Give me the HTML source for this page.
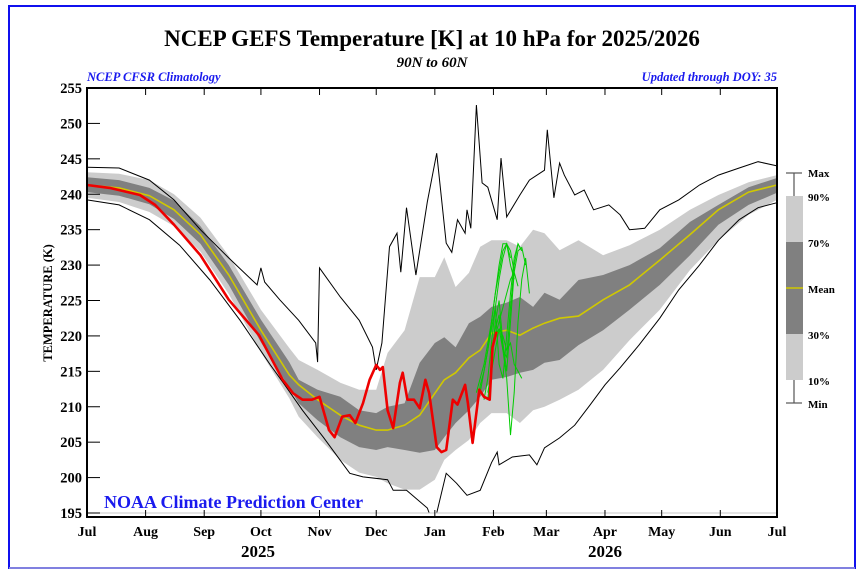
<!DOCTYPE html>
<html><head><meta charset="utf-8"><style>
html,body{margin:0;padding:0;background:#fff;}
svg{display:block;font-family:"Liberation Serif",serif;}
</style></head><body>
<svg id="chart" width="864" height="576" viewBox="0 0 864 576">
<rect x="9" y="6" width="846" height="562" fill="#fff" stroke="#1010ee" stroke-width="2"/>
<line x1="9" y1="568" x2="855" y2="568" stroke="#8080e0" stroke-width="2"/>
<text x="432" y="46" text-anchor="middle" font-size="23" font-weight="bold">NCEP GEFS Temperature [K] at 10 hPa for 2025/2026</text>
<text x="432" y="67" text-anchor="middle" font-size="15" font-weight="bold" font-style="italic">90N to 60N</text>
<text x="87" y="81" font-size="12.5" font-weight="bold" font-style="italic" fill="#1a1aee">NCEP CFSR Climatology</text>
<text x="777" y="81" text-anchor="end" font-size="12.5" font-weight="bold" font-style="italic" fill="#1a1aee">Updated through DOY:  35</text>
<text transform="translate(52,303) rotate(-90)" text-anchor="middle" font-size="12.5" font-weight="bold">TEMPERATURE (K)</text>
<g id="bands"></g>
<g id="lines"></g>
<g id="axes"></g>
<text x="104" y="508" font-size="18" font-weight="bold" fill="#1a1aee">NOAA Climate Prediction Center</text>
<text x="258" y="557" text-anchor="middle" font-size="17" font-weight="bold">2025</text>
<text x="605" y="557" text-anchor="middle" font-size="17" font-weight="bold">2026</text>
<g id="legend">
<line x1="794" y1="173" x2="794" y2="403" stroke="#555" stroke-width="1.2"/>
<line x1="786" y1="173" x2="802" y2="173" stroke="#555" stroke-width="1.2"/>
<line x1="786" y1="403" x2="802" y2="403" stroke="#555" stroke-width="1.2"/>
<rect x="786" y="196" width="17" height="46" fill="#cccccc"/>
<rect x="786" y="242" width="17" height="92" fill="#808080"/>
<rect x="786" y="334" width="17" height="46" fill="#cccccc"/>
<line x1="786" y1="288" x2="803" y2="288" stroke="#d0c800" stroke-width="1.6"/>
<g font-size="11" font-weight="bold">
<text x="808" y="177">Max</text>
<text x="808" y="201">90%</text>
<text x="808" y="247">70%</text>
<text x="808" y="293">Mean</text>
<text x="808" y="339">30%</text>
<text x="808" y="385">10%</text>
<text x="808" y="408">Min</text>
</g>
</g>
</svg>
<script>
const bandDays=[0,17,33,46,60,75,92,107,112,122,134,144,153,159,168,176,184,189,195,202,208,214,222,229,236,242,250,260,273,287,303,319,334,350,365];
const p90=[243.1,242.9,242.0,240.0,236.7,231.3,223.7,218.3,216.6,215.2,213.4,212.4,212.4,217.6,220.8,228.3,228.3,231.1,226.9,228.9,232.6,233.5,233.5,232.6,235.0,234.5,232.1,233.5,231.4,232.8,235.0,237.8,239.9,241.7,242.7];
const p70=[242.4,242.0,240.9,239.1,235.5,230.0,222.3,216.3,213.8,212.4,211.4,209.5,209.1,210.0,210.5,216.2,219.0,219.8,218.4,221.8,222.7,224.1,224.7,225.5,224.1,226.1,225.1,227.9,228.6,230.0,232.4,236.1,238.5,241.0,242.3];
const meanT=[241.3,240.9,239.8,237.8,234.3,228.6,220.8,214.5,213.1,211.0,208.8,207.4,206.7,206.7,207.4,208.8,211.9,213.8,214.8,216.9,218.0,220.4,220.8,220.1,221.1,221.8,222.5,222.8,225.1,227.2,230.7,234.3,237.8,240.3,241.3];
const p30=[240.3,239.8,238.6,236.5,233.0,227.2,219.1,212.7,210.5,208.1,205.7,204.3,203.9,204.3,203.9,203.5,203.9,205.7,207.7,209.5,211.4,213.8,214.2,214.8,215.2,216.2,216.6,218.7,220.8,223.7,227.2,231.4,235.7,238.5,240.2];
const p10=[239.5,238.9,237.5,235.5,231.9,225.9,217.7,211.2,208.6,205.7,202.5,200.7,200.1,199.2,198.3,198.3,199.7,202.5,203.9,205.3,207.7,209.1,209.1,207.7,209.5,210.0,211.0,212.4,215.2,219.4,223.7,229.3,233.5,237.1,239.2];
const maxDays=[0,17,33,46,60,75,90,92,94,102,112,121,122,123,134,144,151,153,156,160,164,166,169,174,180,185,190,193,196,200,201,203,206,209,212,217,219,222,229,234,242,243.5,247,250,252.5,258,263,268,276,282,287,295,303,313,324,334,345,355,365];
const maxT=[243.8,243.7,242.0,239.2,235.0,231.0,227.2,229.6,227.6,225.1,222.2,219.0,216.3,229.6,225.5,222.2,218.4,215.2,219.0,232.6,234.5,229.0,238.1,228.6,238.9,245.8,233.1,231.8,236.4,234.5,237.8,235.2,252.6,241.6,241.0,236.4,245.1,236.8,239.9,242.0,243.4,249.1,239.5,244.4,242.7,239.9,240.6,237.8,238.5,237.1,235.0,235.2,237.8,239.2,241.3,242.7,243.7,244.6,244.0];
const minDays=[0,17,33,49,65,81,97,103.5,114,125,139,146,159,162,169,180,181,185,190,195.5,201,208,214,217,218,225,234,238,242,250,258,266,274,282,292,303,313,324,334,345,355,365];
const minT=[239.2,238.5,236.4,232.8,227.9,222.2,215.9,213.5,209.5,205.7,200.6,200.1,199.7,198.2,198.2,195.7,195.0,195.0,200.6,199.2,197.5,198.2,202.1,203.6,201.8,202.9,203.2,201.8,204.2,205.6,207.4,210.2,213.1,215.5,218.7,222.5,226.5,230.0,233.5,236.4,238.1,238.8];
const obsDays=[0,12,28,36,46,60,75,91,103.5,109,114,119,123,128,131,135,139,142,146,149.5,153,155,156.5,159,162,165.5,167,169.5,173,176,179,181,185,187.5,190,193.5,196,200,201.5,204,207.5,210,213,214.5,216.6];
const obsT=[241.3,240.9,239.9,238.5,235.7,231.4,225.1,220.1,213.8,211.9,211.0,211.0,211.4,206.7,205.7,208.6,208.8,207.7,210.5,213.8,215.9,215.2,215.6,209.5,207.0,213.4,214.8,211.0,211.0,209.8,213.8,211.9,204.3,203.6,203.9,211.0,210.3,213.1,210.5,204.9,212.4,211.4,211.0,218.4,220.6];
const fcStart=[204,206,208,210,212,212,214,216,216];
const fcT=[
[205,209,213,215,218,221,224,228,231,233,232,229],
[212,214,216,219,222,226,230,233,233,231],
[212,215,218,222,226,229,232,233,230,228],
[211,214,219,224,216,214,220,226,231,233,232],
[211,216,222,225,219,215,222,229,232,232.5,230],
[212,215,218,221,218,217,224,230,233,232],
[218,221,223,218,214,206,212,222,228,231,226],
[220,221,220,218,219,216,215,214],
[220,222,224,226,228,229,227]];
const yTicks=[195,200,205,210,215,220,225,230,235,240,245,250,255];
const monthLabels=["Jul","Aug","Sep","Oct","Nov","Dec","Jan","Feb","Mar","Apr","May","Jun","Jul"];
const monthDays=[0,31,62,92,123,153,184,215,243,274,304,335,365];

const X0=87,X1=777,Y0=88,YB=517;
const xs=d=>X0+d*(X1-X0)/365;
const ys=t=>Y0+(255-t)*(513-88)/60;
const NS="http://www.w3.org/2000/svg";
function mk(tag,attrs,parent){const e=document.createElementNS(NS,tag);for(const k in attrs)e.setAttribute(k,attrs[k]);parent.appendChild(e);return e;}
function pts(days,vals){return days.map((d,i)=>xs(d).toFixed(1)+","+ys(vals[i]).toFixed(1));}
function band(lo,hi,fill,name){
  const p=pts(bandDays,hi).concat(pts(bandDays,lo).reverse());
  const e=mk("polygon",{points:p.join(" "),fill:fill},document.getElementById("bands"));
  
  
}
band(p10,p90,"#cccccc","band-10-90");
band(p30,p70,"#808080","band-30-70");
const L=document.getElementById("lines");
let e;
e=mk("polyline",{points:pts(bandDays,meanT).join(" "),fill:"none",stroke:"#d0c800","stroke-width":1.6},L);


e=mk("polyline",{points:pts(maxDays,maxT).join(" "),fill:"none",stroke:"#000","stroke-width":1},L);


e=mk("polyline",{points:pts(minDays,minT).join(" "),fill:"none",stroke:"#000","stroke-width":1},L);


fcT.forEach((arr,i)=>{
  const days=arr.map((v,j)=>fcStart[i]+j*2);
  const f=mk("polyline",{points:pts(days,arr).join(" "),fill:"none",stroke:"#00cc00","stroke-width":1},L);
  
  
});
e=mk("polyline",{points:pts(obsDays,obsT).join(" "),fill:"none",stroke:"#ee0000","stroke-width":2.6,"stroke-linejoin":"round"},L);



const A=document.getElementById("axes");
e=mk("line",{x1:X0,y1:ys(195),x2:X1,y2:ys(195),stroke:"#c8c8c8","stroke-width":1},A);


e=mk("rect",{x:X0,y:Y0,width:X1-X0,height:YB-Y0,fill:"none",stroke:"#000","stroke-width":2},A);


yTicks.forEach(t=>{
  const tk=mk("line",{x1:X0,y1:ys(t),x2:X0+13,y2:ys(t),stroke:"#000","stroke-width":1},A);
  
  
  const lb=mk("text",{x:X0-5,y:ys(t)+5,"text-anchor":"end","font-size":14.5,"font-weight":"bold"},A);
  lb.textContent=t;
  
  
});
monthDays.forEach((d,i)=>{
  const x=xs(d);
  const t1=mk("line",{x1:x,y1:Y0,x2:x,y2:Y0+7,stroke:"#000","stroke-width":1},A);
  
  
  const t2=mk("line",{x1:x,y1:YB,x2:x,y2:YB-7,stroke:"#000","stroke-width":1},A);
  
  
  const lb=mk("text",{x:x,y:536,"text-anchor":"middle","font-size":14,"font-weight":"bold"},A);
  lb.textContent=monthLabels[i];
  
  
});
</script>
</body></html>
